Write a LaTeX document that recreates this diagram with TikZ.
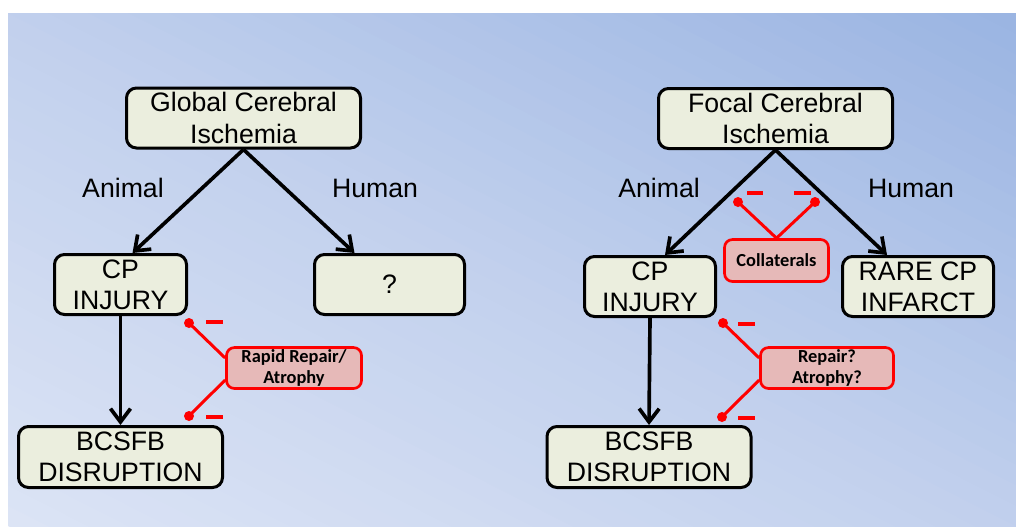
\documentclass[tikz,border=0pt]{standalone}
\usepackage{fontspec}
\setmainfont{Liberation Sans}
\newfontfamily\carlito{Carlito}
\usetikzlibrary{arrows.meta,calc}
\definecolor{boxfill}{HTML}{EBEEDE}
\definecolor{redfill}{HTML}{E6B9B8}
\definecolor{bglight}{HTML}{DCE4F5}
\definecolor{bgmid}{HTML}{C1D0ED}
\definecolor{bgdark}{HTML}{9AB4E2}
\begin{document}
\begin{tikzpicture}[x=0.75pt,y=-0.75pt,
  gbox/.style={draw=black, line width=2.25pt, rounded corners=7.5pt, fill=boxfill,
    align=center, inner sep=0pt, font=\fontsize{20}{23.5}\selectfont},
  rbox/.style={draw=red, line width=2pt, rounded corners=6pt, fill=redfill,
    align=center, inner sep=0pt, font=\carlito\bfseries\fontsize{13.8}{15.5}\selectfont},
  lbl/.style={inner sep=0pt, font=\fontsize{20}{23}\selectfont},
  arr/.style={line width=2.75pt, -{Straight Barb[length=10pt,width=15pt]}},
  inh/.style={red, line width=2.25pt},
  minus/.style={fill=red, minimum width=12.5pt, minimum height=3pt, inner sep=0pt},
  dot/.style={circle, fill=red, minimum size=7.5pt, inner sep=0pt}]
\useasboundingbox (0,0) rectangle (1016,526);
\fill[white] (0,0) rectangle (1016,526);
% background gradient, light at bottom left, dark at top right
\begin{scope}
\clip (8,13) rectangle (1016,526);
\foreach \i in {0,...,49}{
  \pgfmathsetmacro\sa{\i/50}
  \pgfmathsetmacro\sb{(\i+1.06)/50}
  \ifnum\i<25
    \pgfmathtruncatemacro\p{(\i+0.5)*4}
    \colorlet{stripc}{bgmid!\p!bglight}
  \else
    \pgfmathtruncatemacro\p{(\i-24.5)*4}
    \colorlet{stripc}{bgdark!\p!bgmid}
  \fi
  \fill[stripc] ({8+1008*\sa-1008},{526-513*\sa-513}) -- ({8+1008*\sa+1008},{526-513*\sa+513})
    -- ({8+1008*\sb+1008},{526-513*\sb+513}) -- ({8+1008*\sb-1008},{526-513*\sb-513}) -- cycle;
}
\end{scope}

% left tree
\node[gbox, minimum width=175.5pt, minimum height=45pt] (glob) at (243.5,118) {Global Cerebral\\Ischemia};
\node[gbox, minimum width=99pt, minimum height=45pt] (cpL) at (120.5,284.5) {CP\\INJURY};
\node[gbox, minimum width=112.5pt, minimum height=45pt] (qbox) at (389.5,284.5) {?};
\node[gbox, minimum width=153pt, minimum height=45.75pt] (bcL) at (120.5,457) {BCSFB\\DISRUPTION};
\node[rbox, minimum width=101.25pt, minimum height=30.75pt] (rapid) at (294,368) {Rapid Repair/\\Atrophy};
\node[lbl] (animL) at (123,188) {Animal};
\node[lbl] (humL) at (375,188) {Human};

% right tree
\node[gbox, minimum width=175.5pt, minimum height=45pt] (foc) at (775.5,118.5) {Focal Cerebral\\Ischemia};
\node[gbox, minimum width=98.25pt, minimum height=45pt] (cpR) at (650,286.5) {CP\\INJURY};
\node[gbox, minimum width=113.25pt, minimum height=45pt] (rare) at (918,286.5) {RARE CP\\INFARCT};
\node[gbox, minimum width=153pt, minimum height=45.75pt] (bcR) at (649,457) {BCSFB\\DISRUPTION};
\node[rbox, minimum width=78pt, minimum height=31.5pt] (coll) at (776.5,260.5) {Collaterals};
\node[rbox, minimum width=99.75pt, minimum height=30.75pt] (rep) at (827,368) {Repair?\\Atrophy?};
\node[lbl] (animR) at (659,188) {Animal};
\node[lbl] (humR) at (911,188) {Human};

% arrows
\draw[arr] (glob.south) -- ($(cpL.north)+(12,0)$);
\draw[arr] (glob.south) -- ($(qbox.north)+(-35,0)$);
\draw[arr] (cpL.south) -- (bcL.north);
\draw[arr] (foc.south) -- ($(cpR.north)+(15,0)$);
\draw[arr] (foc.south) -- ($(rare.north)+(-31,0)$);
\draw[arr] (cpR.south) -- (bcR.north);

% inhibition marks, left
\node[dot] (dA1) at (189,323) {};
\node[dot] (dA2) at (189,416) {};
\node[minus] (mA1) at (214.5,322) {};
\node[minus] (mA2) at (214.5,417) {};
\draw[inh] ($(rapid.west)+(0,-10)$) -- (dA1.center);
\draw[inh] ($(rapid.west)+(0,12)$) -- (dA2.center);

% inhibition marks, right
\node[dot] (dB1) at (723,323) {};
\node[dot] (dB2) at (722,417) {};
\node[minus] (mB1) at (746.5,324) {};
\node[minus] (mB2) at (746.5,418) {};
\draw[inh] ($(rep.west)+(0,-10)$) -- (dB1.center);
\draw[inh] ($(rep.west)+(0,12)$) -- (dB2.center);

\node[dot] (dC1) at (738,202) {};
\node[dot] (dC2) at (815,202) {};
\node[minus] (mC1) at (755,193) {};
\node[minus] (mC2) at (802.5,193) {};
\draw[inh] (coll.north) -- (dC1.center);
\draw[inh] (coll.north) -- (dC2.center);
\end{tikzpicture}
\end{document}
